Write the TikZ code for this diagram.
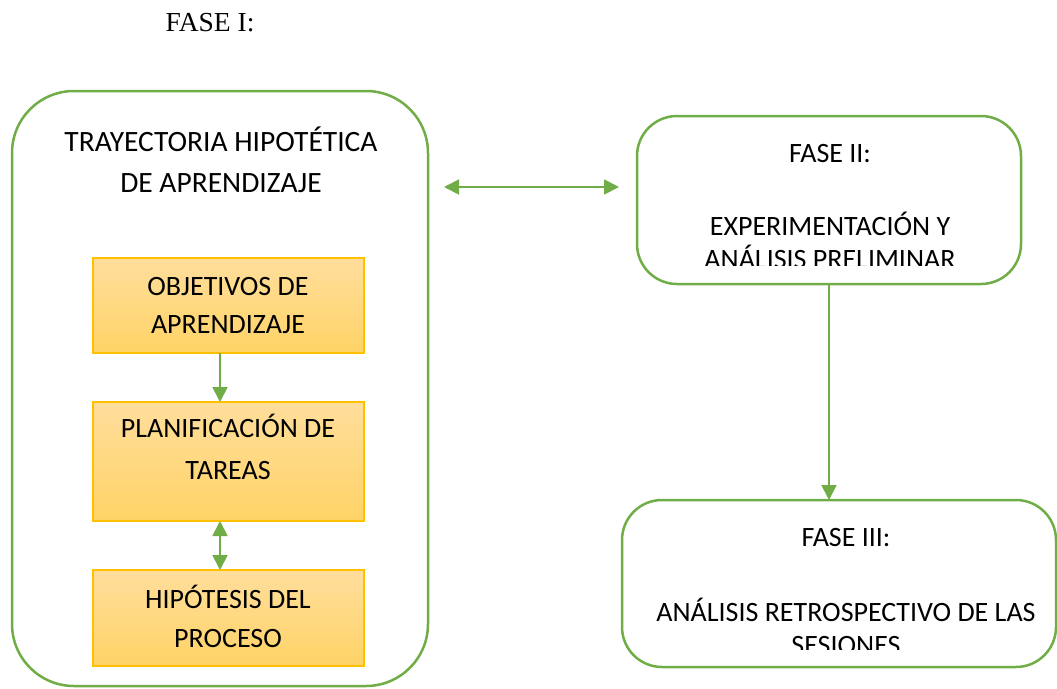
\documentclass[tikz,border=0pt]{standalone}
\usepackage{fontspec}
\setmainfont{Carlito}
\newfontfamily\timesfont{Liberation Serif}
\usetikzlibrary{arrows.meta}
\definecolor{grn}{HTML}{70AD47}
\definecolor{gold}{HTML}{FFC000}
\definecolor{goldtop}{HTML}{FFDE9C}
\definecolor{goldbot}{HTML}{FFD366}
\tikzset{
  x=1pt,y=-1pt,
  phase/.style={draw=grn,line width=2.5pt,fill=white},
  gbox/.style={draw=gold,line width=1.2pt,top color=goldtop,bottom color=goldbot},
  lbl/.style={font=\fontsize{28}{34}\selectfont,inner sep=0pt,anchor=base},
  conn/.style={draw=grn,line width=1.8pt,-{Triangle[length=15pt,width=15pt]}},
  dconn/.style={draw=grn,line width=1.8pt,{Triangle[length=15pt,width=15pt]}-{Triangle[length=15pt,width=15pt]}}
}
\begin{document}
\begin{tikzpicture}
\useasboundingbox (0,0) rectangle (1057,688);
\node[font=\timesfont\fontsize{27.5}{32}\selectfont,inner sep=0pt,anchor=base] (f1) at (210,31) {FASE I:};
% big box
\draw[phase,rounded corners=62pt] (12,91) rectangle (428,686);
\node[lbl,font=\fontsize{29.5}{34}\selectfont] (t1) at (221,151) {TRAYECTORIA HIPOTÉTICA};
\node[lbl,font=\fontsize{29.5}{34}\selectfont] (t2) at (221,192) {DE APRENDIZAJE};
% orange boxes
\path[gbox] (93,258) rectangle (364,353);
\coordinate (b1b) at (220,353);
\path[gbox] (93,402) rectangle (364,521);
\coordinate (b2t) at (220,402); \coordinate (b2b) at (220,521);
\path[gbox] (93,570) rectangle (364,666);
\coordinate (b3t) at (220,570);
\node[lbl] (o1) at (228,295) {OBJETIVOS DE};
\node[lbl] (o2) at (228,333) {APRENDIZAJE};
\node[lbl] (p1) at (228,437) {PLANIFICACIÓN DE};
\node[lbl] (p2) at (228,479) {TAREAS};
\node[lbl] (h1) at (228,608) {HIPÓTESIS DEL};
\node[lbl] (h2) at (228,647) {PROCESO};
\draw[conn] (b1b) -- (b2t);
\draw[dconn] (b2b) -- (b3t);
% FASE II
\draw[phase,rounded corners=40pt] (637,116) rectangle (1021,284);
\coordinate (f2b) at (829,284);
\node[lbl] (f2a) at (830,162) {FASE II:};
\node[lbl] (f2c) at (830,235) {EXPERIMENTACIÓN Y};
\begin{scope}
\clip (640,240) rectangle (1018,265);
\node[lbl] (f2d) at (830,268.5) {ANÁLISIS PRELIMINAR};
\end{scope}
% horizontal double arrow
\coordinate (hl) at (444,187); \coordinate (hr) at (619,187);
\draw[dconn] (hl) -- (hr);
% FASE III
\draw[phase,rounded corners=40pt] (622,500) rectangle (1056,667);
\coordinate (f3t) at (829,500);
\draw[conn] (f2b) -- (f3t);
\node[lbl] (f3a) at (846,546) {FASE III:};
\node[lbl] (f3b) at (846,621) {ANÁLISIS RETROSPECTIVO DE LAS};
\begin{scope}
\clip (625,625) rectangle (1050,649);
\node[lbl] (f3c) at (846,654) {SESIONES};
\end{scope}
\end{tikzpicture}
\end{document}
